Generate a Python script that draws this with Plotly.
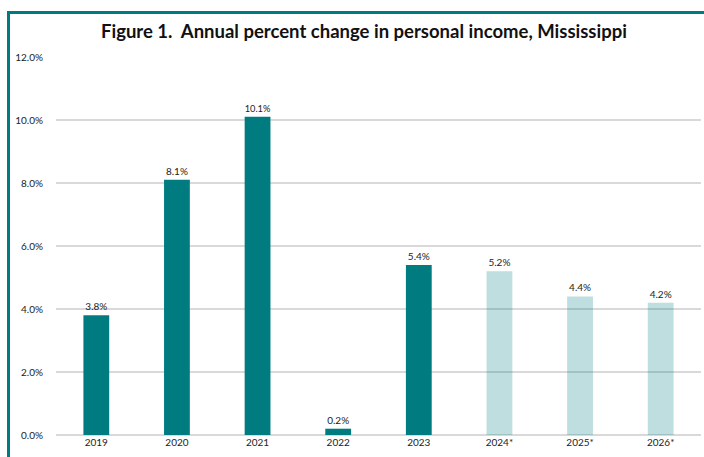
import plotly.graph_objects as go

years = ["2019", "2020", "2021", "2022", "2023", "2024*", "2025*", "2026*"]
values = [3.8, 8.1, 10.1, 0.2, 5.4, 5.2, 4.4, 4.2]
forecast = [False, False, False, False, False, True, True, True]
y_ticks = [0, 2, 4, 6, 8, 10, 12]
y_tick_labels = ["0.0%", "2.0%", "4.0%", "6.0%", "8.0%", "10.0%", "12.0%"]

DARK = "rgb(0,124,128)"
LIGHT = "rgba(0,124,128,0.25)"
colors = [LIGHT if f else DARK for f in forecast]

font_family = "Lato, 'Open Sans', sans-serif"

fig = go.Figure(go.Bar(
    x=years, y=values,
    marker=dict(color=colors, line=dict(width=0)),
    text=[f"{v:.1f}%" for v in values],
    textposition="outside",
    textfont=dict(size=10, color="#222222", family=font_family),
    cliponaxis=False,
))

W, H = 704, 457
ml, mr, mt, mb = 56, 3, 57, 22
pw, ph = W - ml - mr, H - mt - mb

def px_to_paper_x(px):
    return (px - ml) / pw

def px_to_paper_y(py):
    return (H - mb - py) / ph

fig.update_layout(
    width=W, height=H,
    margin=dict(l=ml, r=mr, t=mt, b=mb),
    paper_bgcolor="white", plot_bgcolor="white",
    bargap=0.68,
    showlegend=False,
    font=dict(family=font_family, color="#222222"),
    title=dict(
        text="<b>Figure 1.  Annual percent change in personal income, Mississippi</b>",
        x=0.517, xanchor="center", y=1 - 32 / H, yanchor="middle",
        font=dict(size=18.5, color="#111111", family=font_family),
    ),
    xaxis=dict(
        type="category", showgrid=False, showline=False, ticks="",
        tickfont=dict(size=10, color="#222222"),
    ),
    yaxis=dict(
        range=[0, 12], tickvals=y_ticks, ticktext=y_tick_labels,
        showgrid=True, gridcolor="#d9d9d9", gridwidth=1.5,
        zeroline=True, zerolinecolor="#d9d9d9", zerolinewidth=1.5,
        showline=False, ticks="", ticklabelstandoff=12,
        tickfont=dict(size=10, color="#222222"),
    ),
    shapes=[
        dict(type="line", xref="paper", yref="paper",
             x0=px_to_paper_x(7), x1=px_to_paper_x(706),
             y0=px_to_paper_y(12.5), y1=px_to_paper_y(12.5),
             line=dict(color=DARK, width=3)),
        dict(type="line", xref="paper", yref="paper",
             x0=px_to_paper_x(8.5), x1=px_to_paper_x(8.5),
             y0=px_to_paper_y(11), y1=px_to_paper_y(460),
             line=dict(color=DARK, width=3)),
    ],
)

fig.write_html("out.html")
